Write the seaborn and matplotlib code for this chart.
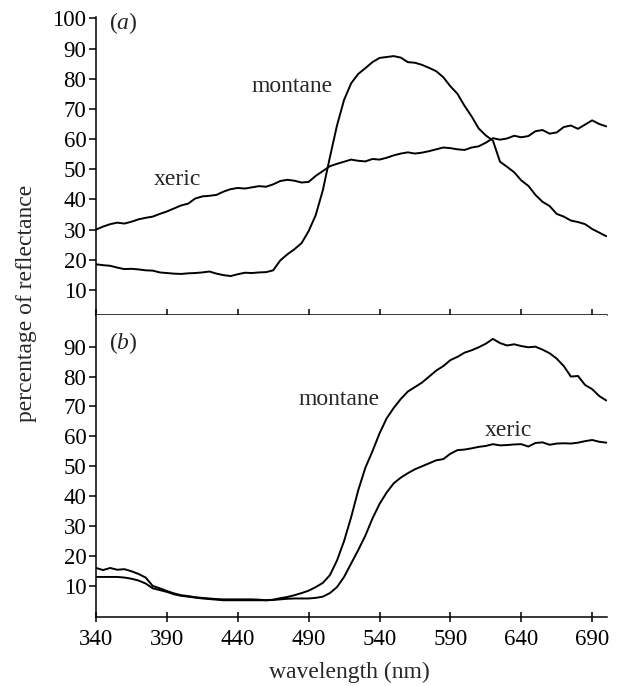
import numpy as np
import pandas as pd
import matplotlib
matplotlib.use('Agg')
import matplotlib.pyplot as plt
import seaborn as sns

# wavelength grid (nm), values every 5 nm
wavelength = list(range(340, 701, 5))

top_xeric = [30.0, 31.0, 31.8, 32.3, 32.0, 32.6, 33.4, 33.9, 34.3, 35.2,
             36.0, 37.0, 38.0, 38.6, 40.3, 41.0, 41.2, 41.5, 42.6, 43.4,
             43.8, 43.6, 44.0, 44.4, 44.2, 45.0, 46.1, 46.5, 46.2, 45.6,
             45.8, 47.8, 49.4, 51.0, 51.8, 52.5, 53.2, 52.8, 52.6, 53.4,
             53.2, 53.8, 54.6, 55.2, 55.6, 55.2, 55.5, 56.0, 56.6, 57.2,
             57.0, 56.6, 56.4, 57.2, 57.6, 58.8, 60.3, 59.8, 60.2, 61.1,
             60.6, 61.0, 62.6, 63.0, 61.8, 62.2, 64.0, 64.5, 63.4, 64.8,
             66.2, 65.0, 64.2]

top_montane = [18.5, 18.2, 18.0, 17.4, 16.9, 17.0, 16.8, 16.5, 16.4, 15.8,
               15.6, 15.4, 15.3, 15.5, 15.6, 15.8, 16.1, 15.4, 14.9, 14.6,
               15.2, 15.7, 15.6, 15.8, 15.9, 16.5, 19.8, 21.8, 23.5, 25.5,
               29.5, 34.8, 43.0, 54.0, 64.5, 73.0, 78.5, 81.6, 83.5, 85.5,
               86.9, 87.2, 87.5, 87.0, 85.5, 85.3, 84.6, 83.6, 82.5, 80.5,
               77.5, 75.0, 71.0, 67.5, 63.5, 61.2, 59.5, 52.5, 50.8, 49.0,
               46.3, 44.5, 41.5, 39.2, 37.8, 35.2, 34.3, 33.0, 32.5, 31.8,
               30.2, 29.0, 27.8]

bottom_montane = [16.0, 15.3, 16.0, 15.4, 15.6, 14.9, 14.0, 12.8, 10.0, 9.2,
                  8.3, 7.5, 6.9, 6.6, 6.2, 6.0, 5.8, 5.6, 5.5, 5.5,
                  5.5, 5.5, 5.5, 5.4, 5.2, 5.4, 5.9, 6.3, 6.9, 7.6,
                  8.4, 9.6, 11.0, 13.6, 18.5, 25.0, 33.0, 42.0, 49.5, 55.0,
                  61.0, 66.0, 69.5, 72.5, 75.0, 76.5, 78.0, 80.0, 82.0, 83.5,
                  85.5, 86.6, 88.0, 88.8, 89.8, 91.0, 92.6, 91.2, 90.4, 90.8,
                  90.2, 89.8, 90.0, 89.0, 87.8, 86.0, 83.5, 80.0, 80.2, 77.2,
                  75.8, 73.5, 72.0]

bottom_xeric = [13.0, 13.0, 13.0, 13.0, 12.8, 12.4, 11.8, 10.8, 9.2, 8.6,
                8.0, 7.2, 6.7, 6.4, 6.1, 5.8, 5.6, 5.4, 5.2, 5.2,
                5.2, 5.2, 5.2, 5.2, 5.2, 5.3, 5.5, 5.7, 5.8, 5.8,
                5.8, 6.0, 6.4, 7.6, 9.6, 13.0, 17.5, 22.0, 26.8, 32.5,
                37.4, 41.2, 44.3, 46.2, 47.7, 49.0, 50.0, 51.0, 52.0, 52.4,
                54.2, 55.4, 55.6, 56.0, 56.5, 56.8, 57.4, 57.0, 57.1, 57.3,
                57.4, 56.6, 57.8, 58.0, 57.2, 57.6, 57.7, 57.6, 57.9, 58.4,
                58.8, 58.2, 57.9]

xticks = [340, 390, 440, 490, 540, 590, 640, 690]
top_yticks = [10, 20, 30, 40, 50, 60, 70, 80, 90, 100]
bottom_yticks = [10, 20, 30, 40, 50, 60, 70, 80, 90]

sns.set_style('ticks')
plt.rcParams['font.family'] = ['Liberation Serif', 'DejaVu Serif']
plt.rcParams['mathtext.fontset'] = 'custom'
plt.rcParams['mathtext.it'] = 'Liberation Serif:italic'
plt.rcParams['mathtext.rm'] = 'Liberation Serif'

fs = 17
tfs = 16.5
fig = plt.figure(figsize=(6.21, 6.86), dpi=100)
ax1 = fig.add_axes([0.1546, 0.5413, 0.8229, 0.4332])
ax2 = fig.add_axes([0.1546, 0.1010, 0.8229, 0.4403])

lw = 1.4
sns.lineplot(x=wavelength, y=top_xeric, ax=ax1, color='black', lw=lw)
sns.lineplot(x=wavelength, y=top_montane, ax=ax1, color='black', lw=lw)
sns.lineplot(x=wavelength, y=bottom_montane, ax=ax2, color='black', lw=lw)
sns.lineplot(x=wavelength, y=bottom_xeric, ax=ax2, color='black', lw=lw)

for ax in (ax1, ax2):
    ax.set_xlim(340, 700.5)
    ax.set_xticks(xticks)
    ax.spines['right'].set_visible(False)
    ax.spines['top'].set_visible(False)
    for s in ('left', 'bottom'):
        ax.spines[s].set_linewidth(1.1)
        ax.spines[s].set_color('black')
    ax.tick_params(axis='y', direction='out', length=5, width=1.1,
                   labelsize=tfs, pad=2, colors='black')
    ax.set_xlabel('')
    ax.set_ylabel('')

ax1.set_ylim(1.8, 100.3)
ax1.set_yticks(top_yticks)
ax1.tick_params(axis='x', direction='in', length=4, width=1.1,
                labelbottom=False, colors='black')

ax2.set_ylim(-0.3, 100.7)
ax2.set_yticks(bottom_yticks)
ax2.tick_params(axis='x', direction='inout', length=7, width=1.1,
                labelsize=tfs, pad=5, colors='black')

ax1.text(349, 98.5, r'($\mathit{a}$)', fontsize=fs, ha='left', va='center')
ax1.text(450, 77.5, 'montane', fontsize=fs, ha='left', va='center')
ax1.text(381, 46.5, 'xeric', fontsize=fs, ha='left', va='center')

ax2.text(349, 91.2, r'($\mathit{b}$)', fontsize=fs, ha='left', va='center')
ax2.text(482.5, 72.5, 'montane', fontsize=fs, ha='left', va='center')
ax2.text(614.5, 62.1, 'xeric', fontsize=fs, ha='left', va='center')

fig.text(27 / 621, 1 - 303 / 686, 'percentage of reflectance', rotation=90,
         fontsize=fs, ha='center', va='center')
fig.text(349 / 621, 1 - 672 / 686, 'wavelength (nm)', fontsize=fs,
         ha='center', va='center')

fig.savefig('out.png', dpi=100)
